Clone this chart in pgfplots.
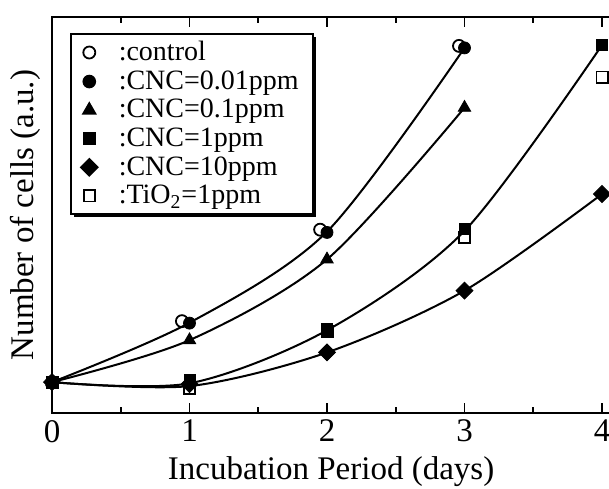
\documentclass[border=0pt]{standalone}
\usepackage{fontspec}
\setmainfont{Liberation Serif}
\usepackage{pgfplots}
\pgfplotsset{compat=1.18}
\usetikzlibrary{shadows}
\begin{document}
\begin{tikzpicture}
\begin{axis}[
  scale only axis,
  width=279.1pt, height=198pt,
  xmin=0, xmax=4.06, ymin=0, ymax=10,
  clip=false,
  axis line style={line width=1.1pt},
  xtick={0,1,2,3,4},
  minor xtick={0.5,1.5,2.5,3.5},
  ytick=\empty,
  tick align=inside,
  xtick pos=both,
  major tick length=5pt, minor tick length=3pt,
  every tick/.style={black, line width=0.9pt},
  /pgf/number format/assume math mode=true,
  tick label style={font=\fontsize{16.5}{18}\selectfont},
  xlabel={Incubation Period (days)},
  ylabel={Number of cells (a.u.)},
  label style={font=\fontsize{16.5}{18}\selectfont},
  ylabel style={at={(axis description cs:0,0.5)}, anchor=south, yshift=2pt},
  legend style={at={(0,1)}, anchor=north west, xshift=9pt, yshift=-8pt,
    draw=black, line width=0.8pt, fill=white,
    font=\fontsize{14}{14}\selectfont, row sep=0pt,
    inner xsep=5pt, inner ysep=2pt,
    drop shadow={shadow xshift=1.6pt, shadow yshift=-1.6pt, opacity=1, fill=black},
    nodes={inner ysep=1.75pt},
    /tikz/every odd column/.append style={column sep=8.5pt}},
  legend cell align=left,
]
% fitted curves
\addplot[black, line width=1pt, smooth, forget plot] coordinates {(0,0.78) (1,2.28) (2,4.58) (3,9.22)};
\addplot[black, line width=1pt, smooth, forget plot] coordinates {(0,0.78) (1,1.84) (2,3.88) (3,7.71)};
\addplot[black, line width=1pt, smooth, forget plot] coordinates {(0,0.78) (1,0.75) (2,2.09) (3,4.60) (4,9.29)};
\addplot[black, line width=1pt, smooth, forget plot] coordinates {(0,0.78) (1,0.68) (2,1.53) (3,3.09) (4,5.53)};
% data markers
\addplot[only marks, mark=o, mark size=3pt, mark options={fill=white, line width=0.9pt}] coordinates {(0,0.78) (0.945,2.32) (1.95,4.63) (2.96,9.27)};
\addlegendentry{:control}
\addplot[only marks, mark=*, mark size=3pt, mark options={fill=black}] coordinates {(0,0.78) (1,2.27) (2,4.56) (3,9.22)};
\addlegendentry{:CNC=0.01ppm}
\addplot[only marks, mark=triangle*, mark size=3.6pt, mark options={fill=black}] coordinates {(0,0.78) (1,1.84) (2,3.88) (3,7.71)};
\addlegendentry{:CNC=0.1ppm}
\addplot[only marks, mark=square*, mark size=2.8pt, mark options={fill=black}] coordinates {(0,0.78) (1,0.83) (2,2.11) (3,4.65) (4,9.29)};
\addlegendentry{:CNC=1ppm}
\addplot[only marks, mark=square*, mark size=3pt, mark options={fill=black, rotate=45}] coordinates {(0,0.78) (1,0.73) (2,1.53) (3,3.09) (4,5.53)};
\addlegendentry{:CNC=10ppm}
\addplot[only marks, mark=square, mark size=2.8pt, mark options={fill=white, line width=0.9pt}] coordinates {(0,0.78) (1,0.63) (2,2.06) (3,4.43) (4,8.48)};
\addlegendentry{:TiO\textsubscript{2}=1ppm}
\coordinate (O) at (axis cs:0,0);
\coordinate (P) at (axis cs:4,10);
\end{axis}
\pgfresetboundingbox
\path ([xshift=-26pt,yshift=-37.5pt]O) rectangle ([xshift=3.5pt,yshift=8.5pt]P);
\end{tikzpicture}
\end{document}
